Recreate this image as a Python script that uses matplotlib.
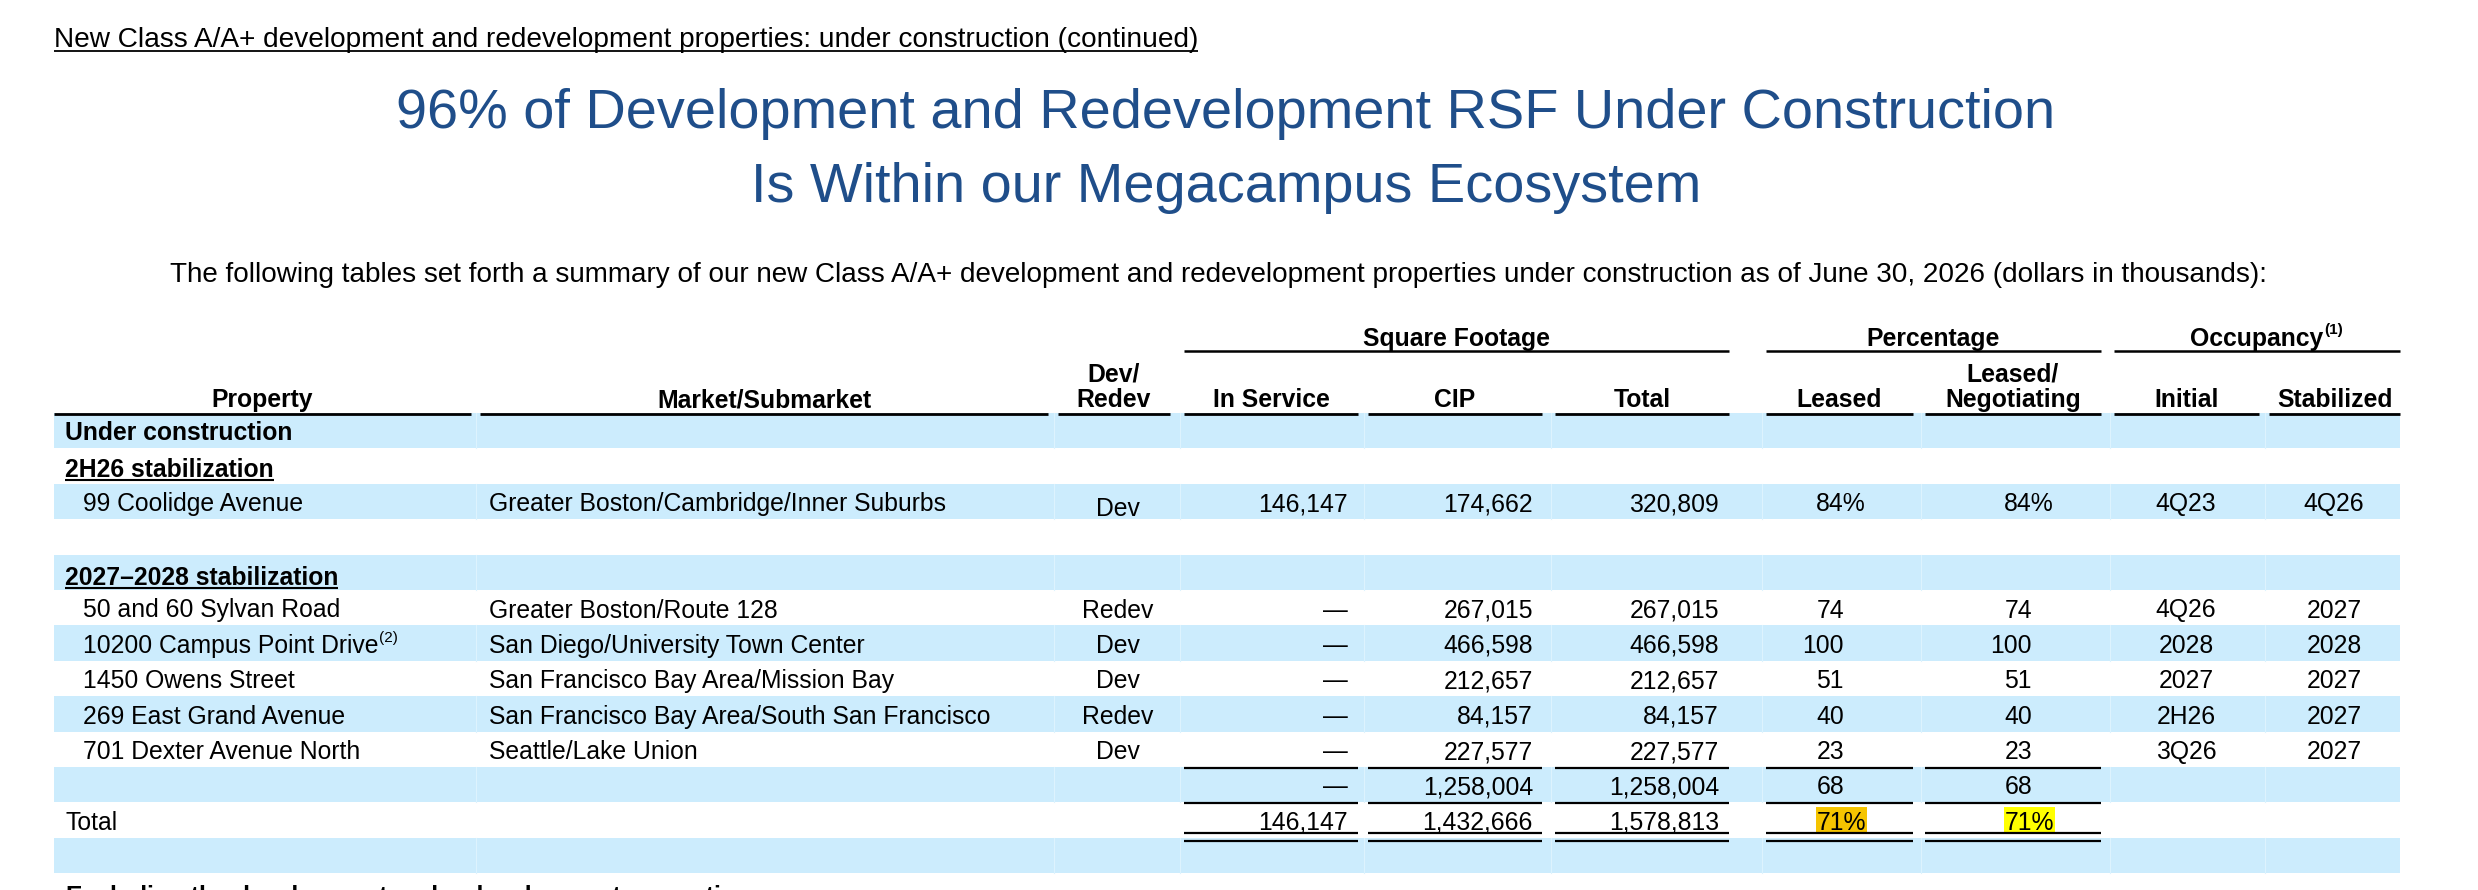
import matplotlib
matplotlib.use('Agg')

import matplotlib.pyplot as plt
from matplotlib.patches import Rectangle

plt.rcParams['font.family'] = ['Liberation Sans', 'DejaVu Sans']

# ---- text ----
page_header = "New Class A/A+ development and redevelopment properties: under construction (continued)"
title_lines = ["96% of Development and Redevelopment RSF Under Construction",
               "Is Within our Megacampus Ecosystem"]
intro = ("The following tables set forth a summary of our new Class A/A+ development and redevelopment "
         "properties under construction as of June 30, 2026 (dollars in thousands):")
footer_cut = "Excluding the development and redevelopment properties"

group_headers = ["Square Footage", "Percentage", "Occupancy"]
col_headers = ["Property", "Market/Submarket", "Dev/\nRedev", "In Service", "CIP", "Total",
               "Leased", "Leased/\nNegotiating", "Initial", "Stabilized"]

# ---- data ----
sections = ["Under construction", "2H26 stabilization", "2027\u20132028 stabilization"]
properties = ["99 Coolidge Avenue", "50 and 60 Sylvan Road", "10200 Campus Point Drive",
              "1450 Owens Street", "269 East Grand Avenue", "701 Dexter Avenue North"]
prop_notes = ["", "", "(2)", "", "", ""]
markets = ["Greater Boston/Cambridge/Inner Suburbs", "Greater Boston/Route 128",
           "San Diego/University Town Center", "San Francisco Bay Area/Mission Bay",
           "San Francisco Bay Area/South San Francisco", "Seattle/Lake Union"]
dev_redev = ["Dev", "Redev", "Dev", "Dev", "Redev", "Dev"]
in_service = [146147, None, None, None, None, None]
cip = [174662, 267015, 466598, 212657, 84157, 227577]
total_rsf = [320809, 267015, 466598, 212657, 84157, 227577]
leased = [84, 74, 100, 51, 40, 23]
leased_neg = [84, 74, 100, 51, 40, 23]
occ_initial = ["4Q23", "4Q26", "2028", "2027", "2H26", "3Q26"]
occ_stabilized = ["4Q26", "2027", "2028", "2027", "2027", "2027"]

subtotal = [None, 1258004, 1258004, 68, 68]
grand_total = [146147, 1432666, 1578813, 71, 71]

# ---- layout (pixels) ----
W, H = 2478, 890
BLUE = "#1F4E8A"
BAND = "#CCECFD"
col_spans = [(54, 471), (480, 1048), (1058, 1170), (1184, 1358), (1368, 1542),
             (1555, 1729), (1766, 1913), (1925, 2101), (2114, 2259), (2269, 2400)]
group_spans = [(1184, 1729), (1766, 2101), (2114, 2400)]
num_right = [1348, 1533, 1719, 1844, 2032]
x_section, x_prop, x_market, x_dev = 65, 83, 489, 1118
x_init, x_stab = 2186, 2334
table_top = 413
row_h = 35.4
n_rows = 13
FS = 17.8

fig = plt.figure(figsize=(W / 100, H / 100), dpi=100)
ax = fig.add_axes([0, 0, 1, 1])
ax.set_xlim(0, W)
ax.set_ylim(H, 0)
ax.axis('off')
renderer = fig.canvas.get_renderer()


def xext(t):
    bb = t.get_window_extent(renderer)
    inv = ax.transData.inverted()
    (x0, _), (x1, _) = inv.transform([[bb.x0, bb.y0], [bb.x1, bb.y1]])
    return x0, x1


def underline(t, y, lw=1.5):
    x0, x1 = xext(t)
    ax.plot([x0, x1], [y, y], color='black', lw=lw, solid_capstyle='butt')


def base(i):
    return table_top + i * row_h + 27.5


def fmt(v):
    return "\u2014" if v is None else f"{v:,}"


# page header / titles
t = ax.text(54, 47, page_header, fontsize=20.2, va='baseline', ha='left')
underline(t, 50.5, lw=1.3)
ax.text(1226, 128, title_lines[0], fontsize=40.2, color=BLUE, ha='center', va='baseline')
ax.text(1226, 202, title_lines[1], fontsize=40.2, color=BLUE, ha='center', va='baseline')
ax.text(1218, 282, intro, fontsize=20.1, ha='center', va='baseline')

# row bands
for i in range(0, n_rows, 2):
    ax.add_patch(Rectangle((54, table_top + i * row_h), 2400 - 54, row_h,
                           facecolor=BAND, edgecolor='none', zorder=0))
for x0, x1 in col_spans[1:]:
    for i in range(0, n_rows, 2):
        ax.plot([x0 - 4, x0 - 4], [table_top + i * row_h, table_top + (i + 1) * row_h],
                color='#DDF3FE', lw=0.8, zorder=0.5)

# group headers
for (x0, x1), label in zip(group_spans, group_headers):
    gt = ax.text((x0 + x1) / 2, 346, label, fontsize=FS, fontweight='bold',
                 ha='center', va='baseline', zorder=3)
    ax.plot([x0, x1], [351, 351], color='black', lw=1.8, solid_capstyle='butt', zorder=2)
    if label == "Occupancy":
        gx0, gx1 = xext(gt)
        ax.text(gx1 + 1, 334, "(1)", fontsize=11, fontweight='bold', ha='left', va='baseline')

# column headers
for (x0, x1), label in zip(col_spans, col_headers):
    lines = label.split("\n")
    for k, ln in enumerate(lines[::-1]):
        ax.text((x0 + x1) / 2, 407 - k * 26, ln, fontsize=FS, fontweight='bold',
                ha='center', va='baseline')
    ax.plot([x0, x1], [414, 414], color='black', lw=2.0, solid_capstyle='butt')

# section rows
ax.text(x_section, base(0), sections[0], fontsize=FS, fontweight='bold', va='baseline')
t = ax.text(x_section, base(1) + 1, sections[1], fontsize=FS, fontweight='bold', va='baseline')
underline(t, base(1) + 4)
t = ax.text(x_section, base(4) + 3, sections[2], fontsize=FS, fontweight='bold', va='baseline')
underline(t, base(4) + 6)


def pct(x, y, v, show_pct):
    # digits right-aligned at x, a "%" sign hangs past the column edge
    a = ax.text(x, y, f"{v}", fontsize=FS, ha='right', va='baseline', zorder=3)
    if not show_pct:
        return a
    x0, _ = xext(a)
    a.remove()
    return ax.text(x0, y, f"{v}%", fontsize=FS, ha='left', va='baseline', zorder=3)


# property rows
prop_rows = [2, 5, 6, 7, 8, 9]
for j, r in enumerate(prop_rows):
    y = base(r)
    t = ax.text(x_prop, y, properties[j], fontsize=FS, va='baseline')
    if prop_notes[j]:
        _, px1 = xext(t)
        ax.text(px1 + 1, y - 11, prop_notes[j], fontsize=11, va='baseline')
    ax.text(x_market, y, markets[j], fontsize=FS, va='baseline')
    ax.text(x_dev, y + (5 if r == 2 else 0), dev_redev[j], fontsize=FS, ha='center', va='baseline')
    ax.text(num_right[0], y, fmt(in_service[j]), fontsize=FS, ha='right', va='baseline')
    ax.text(num_right[1], y, fmt(cip[j]), fontsize=FS, ha='right', va='baseline')
    ax.text(num_right[2], y, fmt(total_rsf[j]), fontsize=FS, ha='right', va='baseline')
    pct(num_right[3], y, leased[j], j == 0)
    pct(num_right[4], y, leased_neg[j], j == 0)
    ax.text(x_init, y, occ_initial[j], fontsize=FS, ha='center', va='baseline')
    ax.text(x_stab, y, occ_stabilized[j], fontsize=FS, ha='center', va='baseline')

# subtotal row
y = base(10)
for k in range(3):
    ax.text(num_right[k], y, fmt(subtotal[k]), fontsize=FS, ha='right', va='baseline')
pct(num_right[3], y, subtotal[3], False)
pct(num_right[4], y, subtotal[4], False)

# total row
y = base(11)
ax.text(x_section, y, "Total", fontsize=FS, va='baseline')
for k in range(3):
    ax.text(num_right[k], y, fmt(grand_total[k]), fontsize=FS, ha='right', va='baseline')
for k, hc in zip((3, 4), ("#F5C400", "#FFFF00")):
    a = pct(num_right[k], y, grand_total[k], True)
    hx0, hx1 = xext(a)
    ax.add_patch(Rectangle((hx0 - 1, 807), hx1 - hx0 + 2, 27, facecolor=hc,
                           edgecolor='none', zorder=1))

# rule lines above/below subtotal and total
for x0, x1 in col_spans[3:8]:
    for yy in (767.5, 802.5):
        ax.plot([x0, x1], [yy, yy], color='black', lw=1.6, solid_capstyle='butt', zorder=2)
    for yy in (832.5, 840.5):
        ax.plot([x0, x1], [yy, yy], color='black', lw=1.6, solid_capstyle='butt', zorder=2)

# footer text continues onto the next page (only its top shows)
ax.text(66, 885, footer_cut, fontsize=FS, fontweight='bold', va='top')

fig.savefig("out.png", dpi=100)
